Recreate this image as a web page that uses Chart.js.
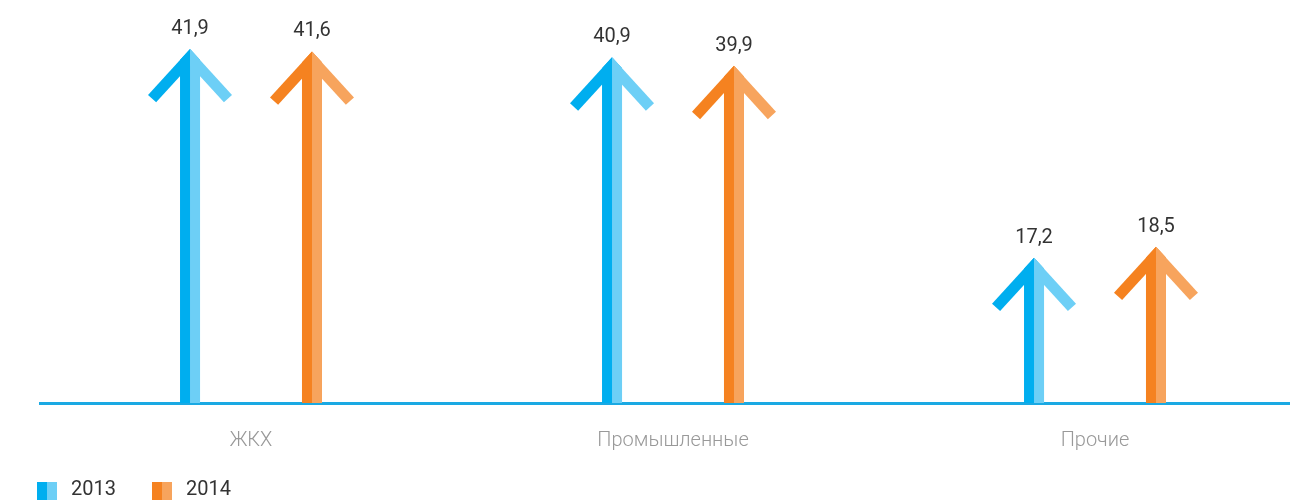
<!DOCTYPE html>
<html>
<head>
<meta charset="utf-8">
<script src="https://cdn.jsdelivr.net/npm/chart.js@4"></script>
<style>
  html, body { margin: 0; padding: 0; background: #fff; overflow: hidden; }
  #wrap { position: relative; width: 1310px; height: 500px; }
  #legenda { position: absolute; left: 37px; top: 478px; font-family: Roboto, sans-serif; font-size: 20px; line-height: 20px; color: #333; white-space: nowrap; }
  .item { display: inline-block; margin-right: 36px; }
  .caixa { display: inline-block; width: 20px; height: 18px; vertical-align: top; margin-top: 4px; margin-right: 14px; }
</style>
</head>
<body>
<div id="wrap">
  <canvas id="grafico" width="1310" height="500"></canvas>
  <div id="legenda"></div>
</div>
<script>
// dados
var categorias = ["ЖКХ", "Промышленные", "Прочие"];
var anos = ["2013", "2014"];
var valores2013 = [41.9, 40.9, 17.2];
var valores2014 = [41.6, 39.9, 18.5];

var corEscura = ["#00aeef", "#f58220"];
var corClara = ["#6dcff6", "#f7a45d"];

// legenda em html
var legenda = document.getElementById("legenda");
for (var i = 0; i < anos.length; i++) {
  legenda.innerHTML +=
    '<span class="item"><span class="caixa" style="background:linear-gradient(90deg,' +
    corEscura[i] + ' 50%,' + corClara[i] + ' 50%)"></span>' + anos[i] + "</span>";
}

function formatar(v) {
  return v.toFixed(1).replace(".", ",");
}

// forma da seta: area abaixo das bordas externas da ponta
function regiaoSeta(ctx, x, y, base) {
  ctx.moveTo(x - 90, base + 5);
  ctx.lineTo(x - 90, y + 98);
  ctx.lineTo(x, y);
  ctx.lineTo(x + 90, y + 98);
  ctx.lineTo(x + 90, base + 5);
  ctx.closePath();
}

var setas = {
  id: "setas",
  beforeDatasetsDraw(chart) {
    var ctx = chart.ctx;
    ctx.save();
    ctx.beginPath();
    chart.data.datasets.forEach(function (ds, d) {
      chart.getDatasetMeta(d).data.forEach(function (el) {
        regiaoSeta(ctx, el.x, el.y, el.base);
      });
    });
    ctx.clip();
  },
  afterDatasetsDraw(chart) {
    var ctx = chart.ctx;
    ctx.restore();
    var t = 11; // espessura da ponta
    var ax = 42, ay = 46; // braco da ponta
    var len = Math.sqrt(ax * ax + ay * ay);
    var nx = ay / len, ny = ax / len;
    chart.data.datasets.forEach(function (ds, d) {
      chart.getDatasetMeta(d).data.forEach(function (el, j) {
        var x = el.x, y = el.y, base = el.base, w = el.width;
        // metade clara da haste
        ctx.save();
        ctx.beginPath();
        regiaoSeta(ctx, x, y, base);
        ctx.clip();
        ctx.fillStyle = corClara[d];
        ctx.fillRect(x, y, w / 2, base - y);
        ctx.restore();

        var apiceInterno = y + t * (ny + nx * ay / ax);
        // braco esquerdo
        ctx.fillStyle = corEscura[d];
        ctx.beginPath();
        ctx.moveTo(x, y);
        ctx.lineTo(x - ax, y + ay);
        ctx.lineTo(x - ax + t * nx, y + ay + t * ny);
        ctx.lineTo(x, apiceInterno);
        ctx.closePath();
        ctx.fill();
        // braco direito
        ctx.fillStyle = corClara[d];
        ctx.beginPath();
        ctx.moveTo(x, y);
        ctx.lineTo(x + ax, y + ay);
        ctx.lineTo(x + ax - t * nx, y + ay + t * ny);
        ctx.lineTo(x, apiceInterno);
        ctx.closePath();
        ctx.fill();

        // valor
        ctx.fillStyle = "#333";
        ctx.font = "20px Roboto";
        ctx.textAlign = "center";
        ctx.textBaseline = "alphabetic";
        ctx.fillText(formatar(ds.data[j]), x, y - 15);
      });
    });
  },
};

var g = new Chart(document.getElementById("grafico"), {
  type: "bar",
  data: {
    labels: categorias,
    datasets: [
      {
        label: anos[0],
        data: valores2013,
        backgroundColor: corEscura[0],
        barPercentage: 0.164,
        categoryPercentage: 0.578,
      },
      {
        label: anos[1],
        data: valores2014,
        backgroundColor: corEscura[1],
        barPercentage: 0.164,
        categoryPercentage: 0.578,
      },
    ],
  },
  options: {
    responsive: false,
    animation: false,
    devicePixelRatio: 1,
    layout: { padding: { left: 40, right: 4, top: 10, bottom: 0 } },
    plugins: {
      legend: { display: false },
      tooltip: { enabled: false },
    },
    scales: {
      x: {
        grid: { display: false },
        border: { color: "#1aa9e3", width: 3 },
        ticks: {
          color: "#999",
          font: { family: "Roboto", size: 20, weight: 300 },
          padding: 18,
        },
        afterFit: function (escala) {
          escala.height = 97;
        },
      },
      y: {
        display: false,
        min: 0,
        max: 46.5,
      },
    },
  },
  plugins: [setas],
});
</script>
</body>
</html>
